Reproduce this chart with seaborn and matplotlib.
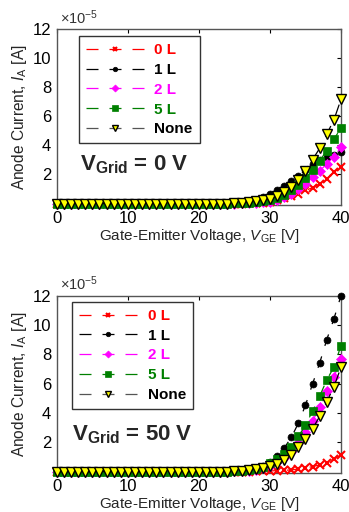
import numpy as np
import matplotlib
matplotlib.use("Agg")
import matplotlib.pyplot as plt
import seaborn as sns
import pandas as pd

sns.set_style("white")
plt.rcParams['font.family'] = ['Liberation Sans', 'DejaVu Sans']
plt.rcParams['mathtext.fontset'] = 'custom'
plt.rcParams['mathtext.rm'] = 'Liberation Sans'
plt.rcParams['mathtext.it'] = 'Liberation Sans:italic'
plt.rcParams['mathtext.bf'] = 'Liberation Sans:bold'

vge = list(range(0, 41))
zeros25 = [0.0] * 25

# Values in units of 1e-5 A
top_0L = zeros25 + [0, 0, 0.01, 0.02, 0.04, 0.10, 0.23, 0.39, 0.52, 0.68, 0.91, 1.09, 1.37, 1.71, 2.16, 2.50]
top_1L = zeros25 + [0.03, 0.07, 0.15, 0.27, 0.43, 0.63, 0.91, 1.21, 1.55, 1.89, 2.32, 2.70, 3.00, 3.20, 3.35, 3.52]
top_2L = zeros25 + [0, 0.01, 0.03, 0.05, 0.08, 0.13, 0.24, 0.46, 0.68, 1.00, 1.37, 1.80, 2.25, 2.73, 3.20, 3.88]
top_5L = zeros25 + [0.02, 0.04, 0.07, 0.10, 0.15, 0.24, 0.39, 0.61, 0.91, 1.30, 1.76, 2.30, 2.95, 3.64, 4.44, 5.17]
top_none = zeros25 + [0.03, 0.06, 0.10, 0.16, 0.23, 0.34, 0.52, 0.80, 1.14, 1.59, 2.27, 3.03, 3.80, 4.78, 5.75, 7.17]

bot_0L = zeros25 + [0, 0, 0, 0.01, 0.02, 0.04, 0.06, 0.08, 0.11, 0.17, 0.23, 0.34, 0.45, 0.61, 0.86, 1.13]
bot_1L = zeros25 + [0.04, 0.08, 0.14, 0.24, 0.40, 0.66, 1.05, 1.60, 2.33, 3.30, 4.53, 5.99, 7.42, 9.02, 10.43, 12.02]
bot_2L = zeros25 + [0.01, 0.03, 0.06, 0.12, 0.22, 0.38, 0.62, 0.93, 1.35, 1.93, 2.70, 3.45, 4.40, 5.48, 6.45, 7.70]
bot_5L = zeros25 + [0.03, 0.06, 0.12, 0.20, 0.33, 0.55, 0.86, 1.22, 1.68, 2.40, 3.16, 4.13, 5.15, 6.26, 7.13, 8.61]
bot_none = zeros25 + [0.03, 0.05, 0.08, 0.14, 0.23, 0.36, 0.52, 0.79, 1.13, 1.66, 2.20, 2.93, 3.77, 4.78, 5.78, 7.13]

labels = ["0 L", "1 L", "2 L", "5 L", "None"]
colors = ["#ff0000", "#000000", "#ff00ff", "#008000", "#000000"]
text_colors = ["#ff0000", "#000000", "#ff00ff", "#008000", "#000000"]
xticks = [0, 10, 20, 30, 40]
yticks = [2, 4, 6, 8, 10, 12]

styles = [
    dict(marker="x", ms=5.5, mec="#ff0000", mfc="#ff0000", mew=1.5),
    dict(marker="o", ms=5, mec="#000000", mfc="#000000", mew=0.5),
    dict(marker="D", ms=5.5, mec="#ff00ff", mfc="#ff00ff", mew=0.5),
    dict(marker="s", ms=6.3, mec="#008000", mfc="#008000", mew=0.5),
    dict(marker="v", ms=7, mec="#000000", mfc="#ffff00", mew=1.0),
]

fig = plt.figure(figsize=(3.49, 5.12), dpi=100)
ax1 = fig.add_axes([0.163, 0.5996, 0.814, 0.3434])
ax2 = fig.add_axes([0.163, 0.0762, 0.814, 0.3457])

def draw(ax, series, title, leg_anchor, txt_pos):
    for lab, col, st, ys in zip(labels, colors, styles, series):
        df = pd.DataFrame({"x": vge, "y": ys})
        sns.lineplot(data=df, x="x", y="y", ax=ax, color=col, lw=0.9,
                     linestyle=(0, (9.6, 8.8)), clip_on=False, label=lab,
                     zorder=3, **st)
    ax.set_xlim(0, 40)
    ax.set_ylim(-0.1, 12)
    ax.set_xticks(xticks)
    ax.set_yticks(yticks)
    ax.tick_params(direction="in", top=True, right=True, length=3,
                   labelsize=12, colors="#000000", pad=4)
    for sp in ax.spines.values():
        sp.set_color("#555555")
        sp.set_linewidth(1.0)
        sp.set_visible(True)
    ax.set_xlabel("Gate-Emitter Voltage, $\\it{V}_{\\rm{GE}}$ [V]", fontsize=11, labelpad=1)
    ax.set_ylabel("Anode Current, $\\it{I}_{\\rm{A}}$ [A]", fontsize=11.2, labelpad=3)
    ax.text(0.01, 1.015, "$\\times$10$^{-5}$", transform=ax.transAxes,
            fontsize=10.5, ha="left", va="bottom", color="#333333")
    ax.text(txt_pos[0], txt_pos[1], "V$_{\\bf{Grid}}$ = " + title, transform=ax.transAxes,
            fontsize=16, fontweight="bold", ha="left", va="center")
    leg = ax.legend(loc="upper left", bbox_to_anchor=leg_anchor, frameon=True,
                    fancybox=False, edgecolor="#333333", framealpha=1,
                    handlelength=3.8, markerscale=0.65,
                    prop={"weight": "bold", "size": 11},
                    borderpad=0.45, labelspacing=0.38, handletextpad=0.7,
                    borderaxespad=0)
    leg.get_frame().set_linewidth(1.0)
    for t, c in zip(leg.get_texts(), text_colors):
        t.set_color(c)
    hs = leg.legend_handles if hasattr(leg, "legend_handles") else leg.legendHandles
    hs[-1].set_color("#555555")
    hs[-1].set_markeredgecolor("#000000")

draw(ax1, [top_0L, top_1L, top_2L, top_5L, top_none], "0 V", (0.077, 0.96), (0.081, 0.227))
draw(ax2, [bot_0L, bot_1L, bot_2L, bot_5L, bot_none], "50 V", (0.053, 0.966), (0.053, 0.215))

fig.savefig("out.png", dpi=100)
